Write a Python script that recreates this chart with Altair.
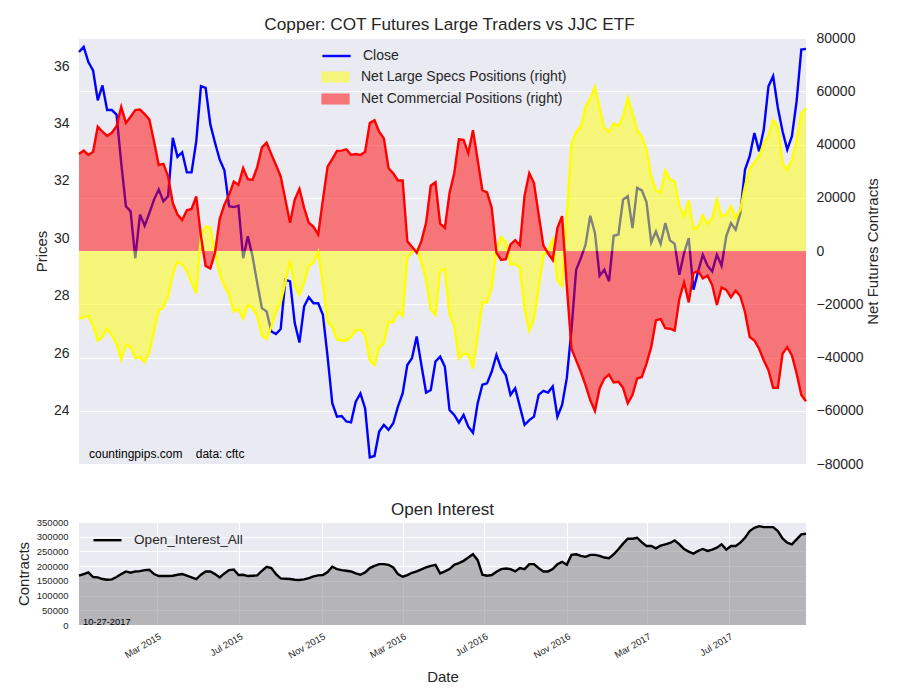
import altair as alt
import pandas as pd

# ---------------- data (weekly) ----------------
close = [36.49, 36.67, 36.14, 35.85, 34.81, 35.33, 34.47, 34.47, 34.31, 32.63,
         31.12, 30.94, 29.31, 30.83, 30.44, 30.88, 31.35, 31.70, 31.29, 31.47,
         33.50, 32.84, 33.00, 32.30, 32.30, 33.38, 35.30, 35.24, 33.97, 33.33,
         32.74, 32.37, 31.12, 31.09, 31.14, 29.31, 30.07, 29.37, 28.44, 27.57,
         27.45, 26.76, 26.67, 26.84, 28.56, 28.50, 27.05, 26.37, 27.63, 27.95,
         27.74, 27.74, 27.34, 25.88, 24.26, 23.79, 23.81, 23.62, 23.59, 24.31,
         24.60, 24.08, 22.37, 22.42, 23.27, 23.50, 23.33, 23.56, 24.14, 24.60,
         25.59, 25.83, 26.58, 25.59, 24.63, 24.72, 25.71, 25.88, 25.53, 24.02,
         23.85, 23.58, 23.85, 23.44, 23.23, 24.26, 24.90, 24.95, 25.36, 25.94,
         25.48, 25.24, 24.55, 24.78, 24.14, 23.50, 23.67, 23.79, 24.55, 24.69,
         24.63, 24.84, 23.79, 24.20, 25.13, 26.81, 28.91, 29.31, 29.78, 30.79,
         30.19, 28.70, 28.91, 28.50, 30.09, 30.13, 31.35, 31.47, 30.36, 31.76,
         31.67, 31.26, 29.86, 30.24, 29.81, 30.53, 29.93, 29.81, 28.73, 29.49,
         30.01, 28.21, 28.85, 29.43, 29.05, 28.85, 29.43, 29.05, 30.07, 30.53,
         30.30, 30.88, 32.40, 32.86, 33.67, 33.03, 33.79, 35.30, 35.65, 34.55,
         33.73, 33.09, 33.56, 34.78, 36.58, 36.60]

net_large_specs = [
    -25500, -24900, -24300, -28000, -33600, -32300, -29200, -31700, -34800, -40700,
    -35200, -36100, -40200, -39800, -41700, -37900, -29900, -22400, -21100, -16800,
    -8700, -4100, -5000, -7500, -11800, -15800, 5600, 9300, 8700, -600,
    -8700, -13100, -16200, -22800, -21800, -25300, -20300, -21500, -24300, -31700,
    -33000, -28600, -23000, -19300, -11800, -3700, -13100, -16500, -11800, -5600,
    -4400, -400, -12400, -26700, -28600, -33200, -33600, -33600, -32300, -29900,
    -29500, -31500, -41100, -42900, -36100, -34800, -26500, -26700, -22800, -24300,
    -2500, -400, 600, -4400, -10600, -22000, -24000, -7500, -6800, -23600,
    -28000, -40400, -38600, -38900, -44200, -31700, -19300, -19300, -13700, 600,
    5300, 3400, -5000, -5000, -6200, -21800, -29900, -25500, -13700, -1900,
    600, 4400, -11200, -13100, 13100, 40400, 44800, 46700, 54100, 57200,
    61600, 53500, 46000, 44800, 47900, 46900, 50400, 57600, 51600, 45400,
    42900, 37900, 28000, 22800, 22000, 30200, 27000, 26100, 16800, 13100,
    19000, 8300, 9100, 13300, 10000, 12400, 19300, 13100, 13700, 16800,
    12400, 15600, 24300, 31100, 33200, 35700, 40400, 43200, 49100, 46900,
    33000, 30500, 34200, 41700, 51600, 53500]

net_commercial = [
    36400, 37700, 36100, 37300, 46700, 44800, 43200, 44400, 46900, 54100,
    48100, 50400, 52900, 53100, 51400, 49400, 41100, 32300, 32700, 28000,
    18000, 13700, 11600, 15300, 15800, 20500, 5600, -5600, -6600, -600,
    12100, 17400, 21100, 26100, 24900, 31100, 27000, 26700, 31500, 38900,
    40700, 36400, 32300, 28000, 19300, 10600, 19300, 23300, 16200, 10600,
    9100, 6200, 19300, 31700, 34500, 37600, 37700, 38200, 36100, 36400,
    36100, 37300, 48100, 49100, 44800, 42300, 31100, 29200, 26500, 26500,
    3700, 1600, -600, 3700, 10600, 24500, 25800, 10300, 8700, 21800,
    29200, 41900, 41700, 36700, 45400, 34200, 22800, 22000, 16200, -600,
    -3400, -3100, 2500, 4100, 2100, 20800, 29200, 25500, 13700, 2100,
    -900, -3400, 8700, 13100, -13100, -36700, -41100, -45500, -50400, -56000,
    -60100, -51600, -47900, -46400, -49400, -49100, -51400, -57200, -54100, -47900,
    -47300, -42300, -36100, -26100, -25500, -29000, -29200, -29900, -18000, -11800,
    -19300, -8300, -7500, -10300, -9300, -12800, -20300, -13700, -14600, -17400,
    -14900, -17000, -23000, -32300, -33600, -36700, -41100, -44800, -51400, -51400,
    -38600, -36100, -39200, -46000, -54100, -56400]

open_interest = [
    167400, 173000, 178600, 162900, 161800, 156200, 153900, 155100, 162900, 173000,
    182000, 177500, 182000, 183100, 186500, 187600, 173000, 166300, 166300, 166300,
    167400, 170800, 173000, 167400, 161800, 156200, 170800, 182000, 182000, 173000,
    161800, 175300, 186500, 188800, 169700, 170800, 166300, 167400, 168500, 184300,
    197800, 193300, 173000, 158400, 157300, 156200, 153900, 152800, 155100, 159600,
    165200, 168500, 169700, 179800, 197800, 189900, 186500, 184300, 182000, 175300,
    170800, 178600, 193300, 201100, 206700, 206700, 204500, 195500, 173000, 164000,
    169700, 177500, 182000, 188800, 195500, 201100, 204500, 175300, 182000, 189900,
    204500, 210100, 218000, 229200, 240400, 220200, 170800, 167400, 169700, 180900,
    189900, 192100, 189900, 182000, 193300, 189900, 206700, 206700, 193300, 182000,
    182000, 189900, 206700, 214600, 204500, 238200, 240400, 234800, 231500, 238200,
    238200, 234800, 229200, 227000, 240400, 257300, 276400, 293300, 293300, 296600,
    280900, 268500, 268500, 260700, 269700, 274200, 278700, 287600, 274200, 258400,
    249400, 242700, 251700, 258400, 251700, 256200, 262900, 274200, 256200, 268500,
    268500, 279800, 296600, 319100, 330300, 336000, 332600, 332600, 332600, 319100,
    294400, 279800, 274200, 291000, 307900, 310100]

last_date = "2017-10-24"
tick_months = [(2015, 3), (2015, 7), (2015, 11), (2016, 3),
               (2016, 7), (2016, 11), (2017, 3), (2017, 7)]
price_ticks = [24, 26, 28, 30, 32, 34, 36]
net_ticks = [-80000, -60000, -40000, -20000, 0, 20000, 40000, 60000, 80000]
oi_ticks = [0, 50000, 100000, 150000, 200000, 250000, 300000, 350000]

TITLE_TOP = "Copper: COT Futures Large Traders vs JJC ETF"
TITLE_BOTTOM = "Open Interest"
LBL_CLOSE = "Close"
LBL_SPECS = "Net Large Specs Positions (right)"
LBL_COMM = "Net Commercial Positions (right)"
LBL_OI = "Open_Interest_All"
CREDIT = "countingpips.com\u00a0\u00a0\u00a0\u00a0data: cftc"
STAMP = "10-27-2017"

# ---------------- build ----------------
dates = pd.date_range(end=last_date, periods=len(close), freq="7D")
df = pd.DataFrame({"date": dates, "close": close, "specs": net_large_specs,
                   "comm": net_commercial, "oi": open_interest,
                   "s_close": LBL_CLOSE, "s_specs": LBL_SPECS,
                   "s_comm": LBL_COMM, "s_oi": LBL_OI})

TXT = "#262626"
FONT = "Liberation Sans"
W = 727
H_TOP = 426
H_BOT = 103
LW = 2.4

x_top = alt.X("date:T", axis=None)

close_line = alt.Chart(df).mark_line(strokeWidth=LW).encode(
    x=x_top,
    y=alt.Y("close:Q",
            scale=alt.Scale(domain=[22.14, 36.98], nice=False, zero=False),
            axis=alt.Axis(title="Prices", values=price_ticks, grid=False,
                          labelPadding=10, titlePadding=4,
                          labelFontSize=14, titleFontSize=15)),
    stroke=alt.Stroke("s_close:N",
                      scale=alt.Scale(domain=[LBL_CLOSE], range=["#0000FF"]),
                      legend=alt.Legend(title=None, orient="none", legendX=242, legendY=2.5,
                                        symbolType="stroke", symbolSize=800,
                                        symbolStrokeWidth=LW, labelFontSize=14,
                                        labelOffset=11, labelColor=TXT, labelLimit=0)),
)

net_axis = alt.Axis(orient="right", title="Net Futures Contracts", values=net_ticks,
                    format="d", grid=True, gridColor="white", labelPadding=10,
                    titlePadding=17, titleAngle=270, labelFontSize=14, titleFontSize=15)
net_scale = alt.Scale(domain=[-80000, 80000], nice=False)

fill_scale = alt.Scale(domain=[LBL_SPECS, LBL_COMM], range=["#FFFF00", "#FF0000"])
fill_legend = alt.Legend(title=None, orient="none", legendX=242, legendY=24.5,
                         symbolType="M-1,-0.39L1,-0.39L1,0.39L-1,0.39Z",
                         symbolSize=800, symbolOpacity=0.5, symbolStrokeWidth=0,
                         labelFontSize=14, labelOffset=11, rowPadding=-1,
                         labelColor=TXT, labelLimit=0)

specs_area = alt.Chart(df).mark_area(opacity=0.5).encode(
    x=x_top,
    y=alt.Y("specs:Q", scale=net_scale, axis=net_axis),
    y2=alt.datum(0),
    fill=alt.Fill("s_specs:N", scale=fill_scale, legend=fill_legend),
)
comm_area = alt.Chart(df).mark_area(opacity=0.5).encode(
    x=x_top,
    y=alt.Y("comm:Q", scale=net_scale, axis=net_axis),
    y2=alt.datum(0),
    fill=alt.Fill("s_comm:N", scale=fill_scale, legend=fill_legend),
)
specs_line = alt.Chart(df).mark_line(color="#FFFF00", strokeWidth=LW).encode(
    x=x_top, y=alt.Y("specs:Q", scale=net_scale, axis=net_axis))
comm_line = alt.Chart(df).mark_line(color="#FF0000", strokeWidth=LW).encode(
    x=x_top, y=alt.Y("comm:Q", scale=net_scale, axis=net_axis))

right_layer = alt.layer(specs_area, comm_area, specs_line, comm_line)

credit = alt.Chart(pd.DataFrame({"t": [CREDIT]})).mark_text(
    align="left", baseline="middle", fontSize=12, color="#000000").encode(
    x=alt.value(10), y=alt.value(416), text="t:N")

top = alt.layer(close_line, right_layer, credit).resolve_scale(y="independent").properties(
    width=W, height=H_TOP,
    title=alt.TitleParams(TITLE_TOP, fontSize=17.2, offset=-2, dx=7, color=TXT,
                          fontWeight="normal", font=FONT))

# ---------------- bottom panel ----------------
x_bot = alt.X("date:T", axis=alt.Axis(
    title="Date", values=[alt.DateTime(year=y, month=m, date=1) for y, m in tick_months],
    format="%b %Y", labelAngle=330, labelAlign="right", labelBaseline="top",
    labelFontSize=9.5, labelPadding=6, grid=True, gridColor="white",
    titleFontSize=15, titlePadding=10))
oi_scale = alt.Scale(domain=[0, 350000], nice=False)
oi_axis = alt.Axis(title="Contracts", values=oi_ticks, format="d", labelFontSize=9.5,
                   titleFontSize=15, gridColor="white", labelPadding=11, titlePadding=5)

oi_area = alt.Chart(df).mark_area(color="#808080", opacity=0.5).encode(
    x=x_bot, y=alt.Y("oi:Q", scale=oi_scale, axis=oi_axis))
oi_line = alt.Chart(df).mark_line(strokeWidth=LW).encode(
    x=x_bot, y=alt.Y("oi:Q", scale=oi_scale, axis=oi_axis),
    stroke=alt.Stroke("s_oi:N", scale=alt.Scale(domain=[LBL_OI], range=["#000000"]),
                      legend=alt.Legend(title=None, orient="none", legendX=13, legendY=2.7,
                                        symbolType="stroke", symbolSize=784,
                                        symbolStrokeWidth=LW, labelFontSize=13.6,
                                        labelOffset=11, labelColor=TXT, labelLimit=0)))
stamp = alt.Chart(pd.DataFrame({"t": [STAMP]})).mark_text(
    align="left", baseline="middle", fontSize=9.3, color="#000000").encode(
    x=alt.value(4), y=alt.value(99.5), text="t:N")

bottom = alt.layer(oi_area, oi_line, stamp).properties(
    width=W, height=H_BOT,
    title=alt.TitleParams(TITLE_BOTTOM, fontSize=17, offset=-2, color=TXT,
                          fontWeight="normal", font=FONT))

chart = alt.vconcat(top, bottom, spacing=30).resolve_scale(
    stroke="independent"
).resolve_legend(stroke="independent").properties(
    padding={"left": 8, "top": 7, "right": 5, "bottom": 5}
).configure(font=FONT).configure_view(
    fill="#EAEAF2", strokeWidth=0
).configure_axis(
    domain=False, ticks=False, labelColor=TXT, titleColor=TXT,
    labelFont=FONT, titleFont=FONT, titleFontWeight="normal"
).configure_legend(labelFont=FONT)

chart.save("out.html", embed_options={"renderer": "svg", "actions": False})
